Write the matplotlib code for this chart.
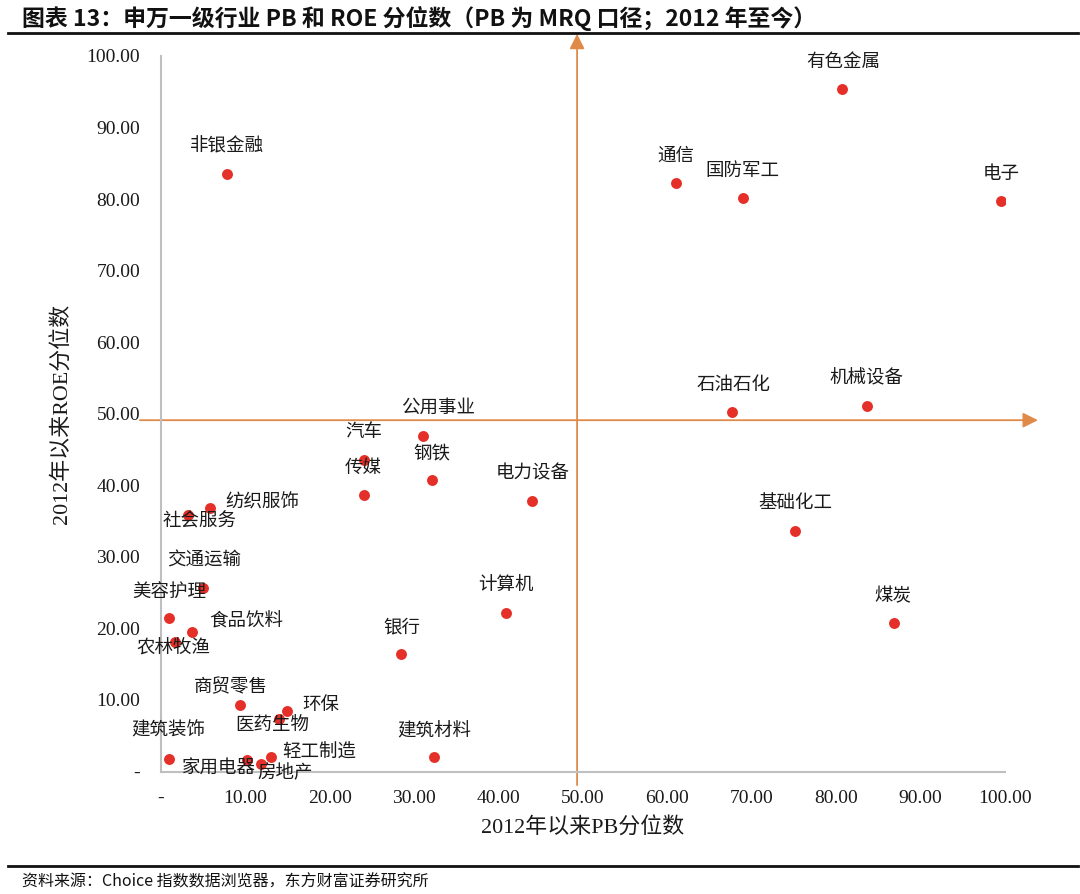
import matplotlib
matplotlib.use("Agg")
import matplotlib.pyplot as plt

# ---- data ----
industries = ["有色金属", "非银金融", "通信", "国防军工", "电子", "石油石化", "机械设备",
              "公用事业", "汽车", "钢铁", "传媒", "电力设备", "纺织服饰", "社会服务",
              "基础化工", "交通运输", "美容护理", "食品饮料", "农林牧渔", "计算机",
              "煤炭", "银行", "商贸零售", "环保", "医药生物", "建筑装饰", "家用电器",
              "轻工制造", "房地产", "建筑材料"]
pb_pct = [80.7, 7.8, 61.0, 68.9, 99.5, 67.7, 83.6,
          31.1, 24.1, 32.1, 24.0, 43.9, 5.8, 3.2,
          75.1, 5.0, 0.9, 3.7, 1.7, 40.9,
          86.8, 28.4, 9.4, 14.9, 14.0, 0.9, 10.2,
          13.0, 11.8, 32.3]
roe_pct = [95.4, 83.5, 82.3, 80.2, 79.7, 50.2, 51.1,
           46.9, 43.5, 40.7, 38.6, 37.8, 36.8, 35.8,
           33.6, 25.7, 21.4, 19.5, 18.1, 22.2,
           20.8, 16.4, 9.3, 8.4, 7.4, 1.8, 1.65,
           2.0, 1.0, 2.0]
ticks = [0, 10, 20, 30, 40, 50, 60, 70, 80, 90, 100]
tick_labels = ["-", "10.00", "20.00", "30.00", "40.00", "50.00", "60.00",
               "70.00", "80.00", "90.00", "100.00"]
pb_mid = 49.3
roe_mid = 49.1

# label offsets (pixels) - layout only
label_offsets = [(1, 27), (0, 28), (0, 27), (0, 27), (0, 27), (1, 27), (0, 27),
                 (15, 28), (-1, 28), (0, 27), (0, 27), (1, 28), (52, 6), (12, -6),
                 (0, 28), (1, 27), (1, 27), (54, 10), (-2, -7), (0, 27),
                 (-1, 26), (1, 27), (-9, 18), (34, 6), (-7, -7), (0, 28), (-28, -9),
                 (49, 5), (25, -9), (1, 26)]

SERIF = ["Liberation Serif", "Noto Sans CJK SC", "DejaVu Sans"]
CJK = ["Noto Sans CJK SC", "DejaVu Sans"]

fig = plt.figure(figsize=(10.8, 8.94), dpi=100)
ax = fig.add_axes([161 / 1080, 1 - 771.5 / 894, (1005 - 161) / 1080, (771.5 - 56) / 894])

ax.scatter(pb_pct, roe_pct, s=62, color="#E5302A", zorder=3, linewidths=0)

for name, x, y, (dx, dy) in zip(industries, pb_pct, roe_pct, label_offsets):
    ax.annotate(name, (x, y), xytext=(dx, dy), textcoords="offset pixels",
                ha="center", va="center", fontsize=13.3, family=CJK,
                color="#1a1a1a", zorder=4, annotation_clip=False)

ax.set_xlim(0, 100)
ax.set_ylim(0, 100)
ax.set_xticks(ticks)
ax.set_xticklabels(tick_labels)
ax.set_yticks(ticks)
ax.set_yticklabels(tick_labels)
for lab in ax.get_xticklabels() + ax.get_yticklabels():
    lab.set_family(SERIF)
    lab.set_fontsize(14)
    lab.set_color("#1a1a1a")
ax.tick_params(axis="both", length=0)
ax.tick_params(axis="y", pad=15)
ax.tick_params(axis="x", pad=13)

for side in ["top", "right"]:
    ax.spines[side].set_visible(False)
for side in ["left", "bottom"]:
    ax.spines[side].set_color("#BFBFBF")
    ax.spines[side].set_linewidth(1.5)

ax.set_xlabel("2012年以来PB分位数", family=SERIF, fontsize=15.8, labelpad=8, color="#1a1a1a")
ax.set_ylabel("2012年以来ROE分位数", family=SERIF, fontsize=15.8, labelpad=10, color="#1a1a1a")

# quadrant arrows
arrow_color = "#E08A4A"
ax.annotate("", xy=(103.9, roe_mid), xytext=(-2.5, roe_mid),
            arrowprops=dict(arrowstyle="-|>,head_length=0.9,head_width=0.45",
                            color=arrow_color, lw=1.3, shrinkA=0, shrinkB=0),
            annotation_clip=False, zorder=2)
ax.annotate("", xy=(pb_mid, 103.1), xytext=(pb_mid, -1.9),
            arrowprops=dict(arrowstyle="-|>,head_length=0.9,head_width=0.45",
                            color=arrow_color, lw=1.3, shrinkA=0, shrinkB=0),
            annotation_clip=False, zorder=2)

# title, rules and source
fig.text(22 / 1080, 1 - 18 / 894,
         "图表 13：申万一级行业 PB 和 ROE 分位数（PB 为 MRQ 口径；2012 年至今）",
         fontsize=16.5, fontweight="bold", family=CJK, ha="left", va="center", color="#111111")
fig.add_artist(plt.Line2D([8 / 1080, 1078 / 1080], [1 - 32.5 / 894] * 2,
                          color="#111111", lw=2, transform=fig.transFigure))
fig.add_artist(plt.Line2D([8 / 1080, 1078 / 1080], [1 - 866 / 894] * 2,
                          color="#111111", lw=2, transform=fig.transFigure))
fig.text(22 / 1080, 1 - 882 / 894, "资料来源：Choice 指数数据浏览器，东方财富证券研究所",
         fontsize=11.5, family=CJK, ha="left", va="center", color="#111111")

fig.savefig("out.png", dpi=100)
